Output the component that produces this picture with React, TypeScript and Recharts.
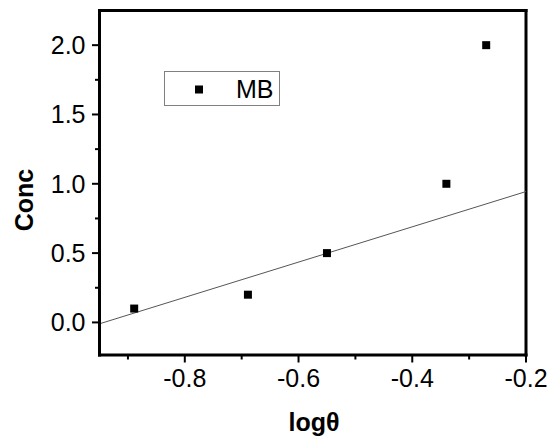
import { ScatterChart, Scatter, XAxis, YAxis, ZAxis, ReferenceLine, Legend, Label } from 'recharts'

const FONT = '"Liberation Sans", Arial, sans-serif'

// measured points
const logTheta = [-0.889, -0.689, -0.55, -0.34, -0.27]
const conc = [0.1, 0.2, 0.5, 1.0, 2.0]

// fitted line end points
const fitX = [-0.95, -0.2]
const fitY = [-0.01, 0.944]

const xDomain = [-0.95, -0.2]
const yDomain = [-0.235, 2.25]
const xTicks = [-0.9, -0.8, -0.7, -0.6, -0.5, -0.4, -0.3, -0.2]
const xLabelled = [-0.8, -0.6, -0.4, -0.2]
const yTicks = [0, 0.25, 0.5, 0.75, 1, 1.25, 1.5, 1.75, 2]
const yLabelled = [0, 0.5, 1, 1.5, 2]

const TICK_SIZE = 8
const TICK_MARGIN = 6

const isLabelled = (v: number, list: number[]) => list.some(t => Math.abs(t - v) < 1e-6)

function XTick({ x, y, payload }: any) {
  const axisY = y - TICK_SIZE - TICK_MARGIN
  const major = isLabelled(payload.value, xLabelled)
  return (
    <g>
      <line x1={x} x2={x} y1={axisY} y2={axisY + (major ? 7.5 : 4.5)} stroke="#000" strokeWidth={2} />
      {major && (
        <text x={x} y={y} dy="0.71em" textAnchor="middle" fontSize={25} fontFamily={FONT} fill="#000">
          {payload.value.toFixed(1)}
        </text>
      )}
    </g>
  )
}

function YTick({ x, y, payload }: any) {
  const axisX = x + TICK_SIZE + TICK_MARGIN
  const major = isLabelled(payload.value, yLabelled)
  return (
    <g>
      <line x1={axisX - (major ? 7.5 : 4.5)} x2={axisX} y1={y} y2={y} stroke="#000" strokeWidth={2} />
      {major && (
        <text x={x} y={y} dy="0.355em" textAnchor="end" fontSize={25} fontFamily={FONT} fill="#000">
          {payload.value.toFixed(1)}
        </text>
      )}
    </g>
  )
}

function LegendBox({ payload }: any) {
  const name = payload && payload[0] ? payload[0].value : 'MB'
  return (
    <svg width={116} height={35} style={{ display: 'block' }}>
      <rect x={0.5} y={0.5} width={115} height={34} fill="#fff" stroke="#808080" />
      <rect x={31} y={14.5} width={8} height={8} fill="#000" />
      <text x={72} y={26.5} fontSize={25} fontFamily={FONT} fill="#000">{name}</text>
    </svg>
  )
}

export default function App() {
  const points = logTheta.map((v, i) => ({ logTheta: v, conc: conc[i] }))
  const axisLine = { stroke: '#000', strokeWidth: 3, strokeLinecap: 'square' as const }

  return (
    <div style={{ position: 'absolute', left: 0, top: 0, width: 554, height: 440, background: '#fff' }}>
      <ScatterChart width={554} height={440} margin={{ top: 10.5, right: 28, bottom: 0, left: 0 }}>
        <XAxis
          type="number"
          dataKey="logTheta"
          domain={xDomain}
          ticks={xTicks}
          interval={0}
          height={85}
          axisLine={axisLine}
          tickLine={false}
          tickSize={TICK_SIZE}
          tickMargin={TICK_MARGIN}
          tick={<XTick />}
        >
          <Label
            value="logθ"
            content={() => (
              <text x={314} y={431} textAnchor="middle" fontSize={25} fontWeight="bold" fontFamily={FONT} fill="#000">
                logθ
              </text>
            )}
          />
        </XAxis>
        <YAxis
          type="number"
          dataKey="conc"
          domain={yDomain}
          ticks={yTicks}
          interval={0}
          width={99.5}
          axisLine={axisLine}
          tickLine={false}
          tickSize={TICK_SIZE}
          tickMargin={TICK_MARGIN}
          tick={<YTick />}
        >
          <Label
            value="Conc"
            content={() => (
              <text
                x={24}
                y={200}
                transform="rotate(-90 24 200)"
                textAnchor="middle"
                dy="0.355em"
                fontSize={25}
                fontWeight="bold"
                fontFamily={FONT}
                fill="#000"
              >
                Conc
              </text>
            )}
          />
        </YAxis>
        <ZAxis type="number" range={[64, 64]} />
        <ReferenceLine y={yDomain[1]} stroke="#000" strokeWidth={3} strokeLinecap="square" />
        <ReferenceLine x={xDomain[1]} stroke="#000" strokeWidth={3} strokeLinecap="square" />
        <ReferenceLine
          segment={[{ x: fitX[0], y: fitY[0] }, { x: fitX[1], y: fitY[1] }]}
          stroke="#555"
          strokeWidth={1}
        />
        <Legend
          layout="vertical"
          align="center"
          verticalAlign="middle"
          width={116}
          height={35}
          wrapperStyle={{ left: 164, top: 70.5, width: 116, height: 35 }}
          content={<LegendBox />}
        />
        <Scatter name="MB" data={points} fill="#000" shape="square" isAnimationActive={false} />
      </ScatterChart>
    </div>
  )
}
